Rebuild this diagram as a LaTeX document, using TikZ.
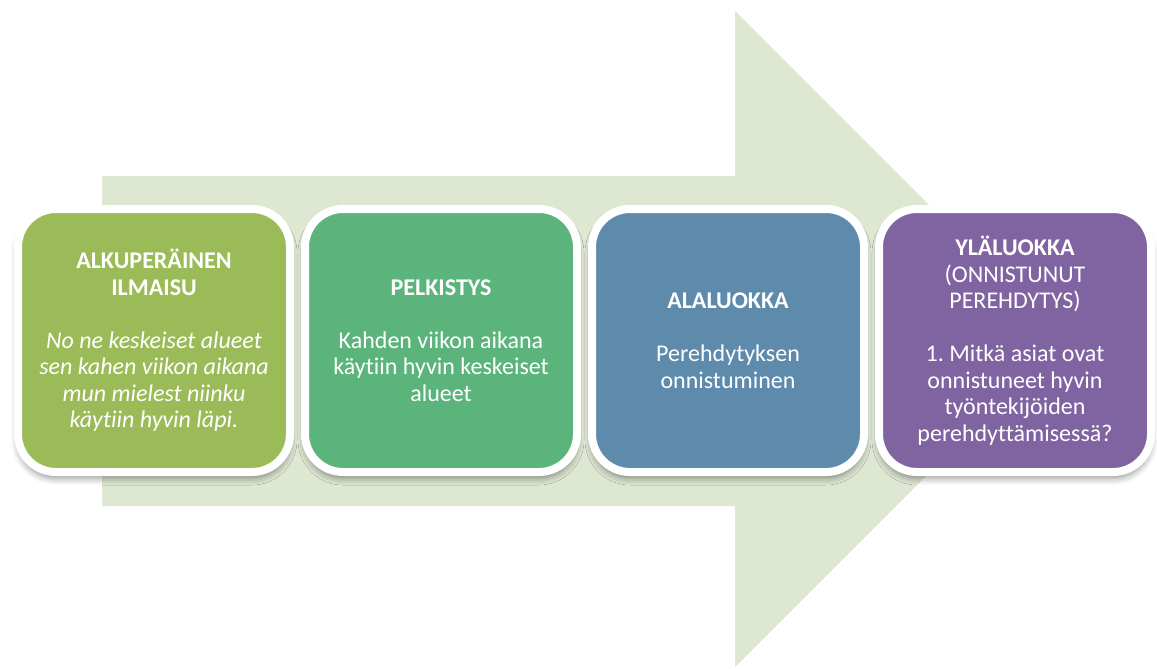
\documentclass[tikz,border=0pt]{standalone}
\usepackage{fontspec}
\setmainfont{Carlito}[Ligatures={NoCommon}]
\usetikzlibrary{shadows.blur}

\definecolor{arrowfill}{HTML}{DEE7D2}
\definecolor{olivebox}{HTML}{9BBB59}
\definecolor{greenbox}{HTML}{5CB47D}
\definecolor{bluebox}{HTML}{5E8BAC}
\definecolor{purplebox}{HTML}{8064A2}

\tikzset{
  stagebox/.style={
    draw=white, line width=8pt, fill=#1,
    rounded corners=38pt,
    minimum width=272pt, minimum height=263pt,
    text=white, align=center, inner sep=0pt,
    font=\fontsize{24}{26.5}\selectfont\frenchspacing,
    blur shadow={shadow xshift=0pt, shadow yshift=-6pt,
                 shadow blur radius=7pt, shadow opacity=45}
  }
}

\begin{document}
\begin{tikzpicture}[x=1pt, y=-1pt]
  \useasboundingbox (0,0) rectangle (1157,669);

  % broad background arrow
  \fill[arrowfill] (102,176) -- (735,176) -- (735,11) -- (1063,339)
    -- (735,667) -- (735,506) -- (102,506) -- cycle;

  % the four stages
  \node[stagebox=olivebox] (orig) at (154,340.5)
    {\textbf{ALKUPERÄINEN}\\ \textbf{ILMAISU}\\[26.5pt]
     \textit{No ne keskeiset alueet}\\ \textit{sen kahen viikon aikana}\\
     \textit{mun mielest niinku}\\ \textit{käytiin hyvin läpi.}};

  \node[stagebox=greenbox] (pelk) at (441,340.5)
    {\textbf{PELKISTYS}\\[26.5pt]
     Kahden viikon aikana\\ käytiin hyvin keskeiset\\ alueet};

  \node[stagebox=bluebox] (ala) at (728,340.5)
    {\textbf{ALALUOKKA}\\[26.5pt]
     Perehdytyksen\\ onnistuminen};

  \node[stagebox=purplebox] (yla) at (1015,340.5)
    {\textbf{YLÄLUOKKA}\\ (ONNISTUNUT\\ PEREHDYTYS)\\[26.5pt]
     1. Mitkä asiat ovat\\ onnistuneet hyvin\\ työntekijöiden\\ perehdyttämisessä?};
\end{tikzpicture}
\end{document}
